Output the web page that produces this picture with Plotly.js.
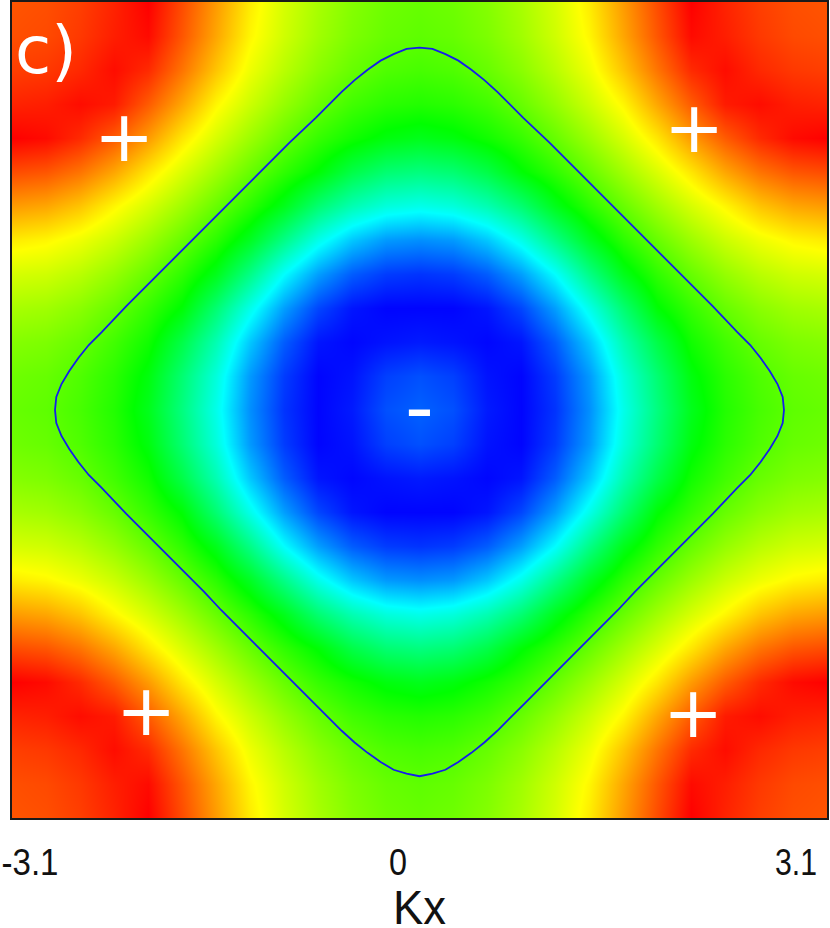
<!DOCTYPE html>
<html>
<head>
<meta charset="utf-8">
<script src="https://cdn.plot.ly/plotly-3.0.1.min.js"></script>
<style>html,body{margin:0;padding:0;background:#fff;}#chart{width:830px;height:928px;}</style>
</head>
<body>
<div id="chart"></div>
<script>
// Brillouin-zone grid (kx, ky) from -pi to pi, step pi/12
const kGrid = [-3.1416,-2.8798,-2.6180,-2.3562,-2.0944,-1.8326,-1.5708,-1.3090,-1.0472,-0.7854,-0.5236,-0.2618,0,
               0.2618,0.5236,0.7854,1.0472,1.3090,1.5708,1.8326,2.0944,2.3562,2.6180,2.8798,3.1416];

// colour value at each grid point (0 = blue ... 1 = red); rows = ky, columns = kx
const gapRows = [
 [0.917,0.923,0.939,0.966,1.000,0.926,0.848,0.769,0.710,0.665,0.630,0.608,0.600,0.608,0.630,0.665,0.710,0.769,0.848,0.926,1.000,0.966,0.939,0.923,0.917],
 [0.923,0.928,0.945,0.971,0.990,0.916,0.837,0.758,0.703,0.657,0.622,0.600,0.592,0.600,0.622,0.657,0.703,0.758,0.837,0.916,0.990,0.971,0.945,0.928,0.923],
 [0.939,0.945,0.961,0.988,0.959,0.886,0.807,0.734,0.681,0.635,0.600,0.577,0.569,0.577,0.600,0.635,0.681,0.734,0.807,0.886,0.959,0.988,0.961,0.945,0.939],
 [0.966,0.971,0.988,0.974,0.911,0.837,0.758,0.699,0.646,0.600,0.563,0.541,0.533,0.541,0.563,0.600,0.646,0.699,0.758,0.837,0.911,0.974,0.988,0.971,0.966],
 [1.000,0.990,0.959,0.911,0.848,0.774,0.710,0.653,0.600,0.552,0.516,0.487,0.474,0.487,0.516,0.552,0.600,0.653,0.710,0.774,0.848,0.911,0.959,0.990,1.000],
 [0.926,0.916,0.886,0.837,0.774,0.714,0.657,0.600,0.545,0.495,0.430,0.389,0.376,0.389,0.430,0.495,0.545,0.600,0.657,0.714,0.774,0.837,0.886,0.916,0.926],
 [0.848,0.837,0.807,0.758,0.710,0.657,0.600,0.541,0.474,0.389,0.325,0.284,0.270,0.284,0.325,0.389,0.474,0.541,0.600,0.657,0.710,0.758,0.807,0.837,0.848],
 [0.769,0.758,0.734,0.699,0.653,0.600,0.541,0.466,0.368,0.270,0.195,0.150,0.140,0.150,0.195,0.270,0.368,0.466,0.541,0.600,0.653,0.699,0.734,0.758,0.769],
 [0.710,0.703,0.681,0.646,0.600,0.545,0.474,0.368,0.250,0.155,0.090,0.058,0.050,0.058,0.090,0.155,0.250,0.368,0.474,0.545,0.600,0.646,0.681,0.703,0.710],
 [0.665,0.657,0.635,0.600,0.552,0.495,0.389,0.270,0.155,0.068,0.020,0.004,0.004,0.004,0.020,0.068,0.155,0.270,0.389,0.495,0.552,0.600,0.635,0.657,0.665],
 [0.630,0.622,0.600,0.563,0.516,0.430,0.325,0.195,0.090,0.020,0.006,0.018,0.025,0.018,0.006,0.020,0.090,0.195,0.325,0.430,0.516,0.563,0.600,0.622,0.630],
 [0.608,0.600,0.577,0.541,0.487,0.389,0.284,0.150,0.058,0.004,0.018,0.062,0.078,0.062,0.018,0.004,0.058,0.150,0.284,0.389,0.487,0.541,0.577,0.600,0.608],
 [0.600,0.592,0.569,0.533,0.474,0.376,0.270,0.140,0.050,0.004,0.025,0.078,0.095,0.078,0.025,0.004,0.050,0.140,0.270,0.376,0.474,0.533,0.569,0.592,0.600],
 [0.608,0.600,0.577,0.541,0.487,0.389,0.284,0.150,0.058,0.004,0.018,0.062,0.078,0.062,0.018,0.004,0.058,0.150,0.284,0.389,0.487,0.541,0.577,0.600,0.608],
 [0.630,0.622,0.600,0.563,0.516,0.430,0.325,0.195,0.090,0.020,0.006,0.018,0.025,0.018,0.006,0.020,0.090,0.195,0.325,0.430,0.516,0.563,0.600,0.622,0.630],
 [0.665,0.657,0.635,0.600,0.552,0.495,0.389,0.270,0.155,0.068,0.020,0.004,0.004,0.004,0.020,0.068,0.155,0.270,0.389,0.495,0.552,0.600,0.635,0.657,0.665],
 [0.710,0.703,0.681,0.646,0.600,0.545,0.474,0.368,0.250,0.155,0.090,0.058,0.050,0.058,0.090,0.155,0.250,0.368,0.474,0.545,0.600,0.646,0.681,0.703,0.710],
 [0.769,0.758,0.734,0.699,0.653,0.600,0.541,0.466,0.368,0.270,0.195,0.150,0.140,0.150,0.195,0.270,0.368,0.466,0.541,0.600,0.653,0.699,0.734,0.758,0.769],
 [0.848,0.837,0.807,0.758,0.710,0.657,0.600,0.541,0.474,0.389,0.325,0.284,0.270,0.284,0.325,0.389,0.474,0.541,0.600,0.657,0.710,0.758,0.807,0.837,0.848],
 [0.926,0.916,0.886,0.837,0.774,0.714,0.657,0.600,0.545,0.495,0.430,0.389,0.376,0.389,0.430,0.495,0.545,0.600,0.657,0.714,0.774,0.837,0.886,0.916,0.926],
 [1.000,0.990,0.959,0.911,0.848,0.774,0.710,0.653,0.600,0.552,0.516,0.487,0.474,0.487,0.516,0.552,0.600,0.653,0.710,0.774,0.848,0.911,0.959,0.990,1.000],
 [0.966,0.971,0.988,0.974,0.911,0.837,0.758,0.699,0.646,0.600,0.563,0.541,0.533,0.541,0.563,0.600,0.646,0.699,0.758,0.837,0.911,0.974,0.988,0.971,0.966],
 [0.939,0.945,0.961,0.988,0.959,0.886,0.807,0.734,0.681,0.635,0.600,0.577,0.569,0.577,0.600,0.635,0.681,0.734,0.807,0.886,0.959,0.988,0.961,0.945,0.939],
 [0.923,0.928,0.945,0.971,0.990,0.916,0.837,0.758,0.703,0.657,0.622,0.600,0.592,0.600,0.622,0.657,0.703,0.758,0.837,0.916,0.990,0.971,0.945,0.928,0.923],
 [0.917,0.923,0.939,0.966,1.000,0.926,0.848,0.769,0.710,0.665,0.630,0.608,0.600,0.608,0.630,0.665,0.710,0.769,0.848,0.926,1.000,0.966,0.939,0.923,0.917]
];

// Fermi surface (blue line), closed loop
const fsKx = [2.81,2.80,2.76,2.70,2.63,2.55,2.45,2.26,2.06,1.86,1.66,1.53,1.40,1.20,1.00,0.80,0.60,0.50,0.40,0.30,0.20,0.10,0.00,
              -0.10,-0.20,-0.30,-0.40,-0.50,-0.60,-0.80,-1.00,-1.20,-1.40,-1.53,-1.66,-1.86,-2.06,-2.26,-2.45,-2.55,-2.63,-2.70,-2.76,-2.80,-2.81,
              -2.80,-2.76,-2.70,-2.63,-2.55,-2.45,-2.26,-2.06,-1.86,-1.66,-1.53,-1.40,-1.20,-1.00,-0.80,-0.60,-0.50,-0.40,-0.30,-0.20,-0.10,0.00,
              0.10,0.20,0.30,0.40,0.50,0.60,0.80,1.00,1.20,1.40,1.53,1.66,1.86,2.06,2.26,2.45,2.55,2.63,2.70,2.76,2.80,2.81];
const fsKy = [0.00,0.10,0.20,0.30,0.40,0.50,0.60,0.80,1.00,1.20,1.40,1.53,1.66,1.86,2.06,2.25,2.45,2.54,2.62,2.69,2.74,2.78,2.79,
              2.78,2.74,2.69,2.62,2.54,2.45,2.25,2.06,1.86,1.66,1.53,1.40,1.20,1.00,0.80,0.60,0.50,0.40,0.30,0.20,0.10,0.00,
              -0.10,-0.20,-0.30,-0.40,-0.50,-0.60,-0.80,-1.00,-1.20,-1.40,-1.54,-1.67,-1.87,-2.07,-2.27,-2.47,-2.56,-2.64,-2.71,-2.77,-2.80,-2.82,
              -2.80,-2.77,-2.71,-2.64,-2.56,-2.47,-2.27,-2.07,-1.87,-1.67,-1.54,-1.40,-1.20,-1.00,-0.80,-0.60,-0.50,-0.40,-0.30,-0.20,-0.10,0.00];

// tick labels as printed under the panel
const tickLabels = ['-3.1','0','3.1'];
const tickPos = [-3.003,-0.166,2.903];
const tickLabelWidths = {'-3.1':57, '0':18, '3.1':42};
const axisTitleWidth = 53;

// sign labels of the gap
const signText = ['+','+','+','+','-'];
const signX = [0.1374,0.8368,0.1644,0.8356,0.5];
const signY = [0.8358,0.8468,0.1324,0.1299,0.5025];

const colors = [[0,'rgb(0,0,255)'],[0.25,'rgb(0,255,255)'],[0.5,'rgb(0,255,0)'],[0.75,'rgb(255,255,0)'],[1,'rgb(255,0,0)']];

const traces = [
  {type:'heatmap', x:kGrid, y:kGrid, z:gapRows, zmin:0, zmax:1, zsmooth:'best',
   colorscale:colors, showscale:false, hoverinfo:'skip'},
  {type:'scatter', mode:'lines', x:fsKx, y:fsKy,
   line:{color:'rgb(20,30,235)', width:1.8, shape:'linear'}, hoverinfo:'skip'}
];

const annotations = [
  {text:'c)', xref:'paper', yref:'paper', x:0.0417, y:0.941, showarrow:false,
   xanchor:'center', yanchor:'middle', font:{family:'DejaVu Sans', size:66, color:'#fff'}}
];
for (let i = 0; i < signText.length; i++) {
  annotations.push({text:signText[i], xref:'paper', yref:'paper', x:signX[i], y:signY[i], showarrow:false,
    xanchor:'center', yanchor:'middle',
    font:{family:'DejaVu Sans', size:(signText[i] === '-' ? 80 : 72), color:'#fff'}});
}

const axisFont = "'Liberation Sans', Arial, sans-serif";
const layout = {
  width:830, height:928,
  margin:{l:12, r:3, t:2, b:110, pad:0},
  paper_bgcolor:'#fff', plot_bgcolor:'#fff',
  showlegend:false,
  xaxis:{range:[-Math.PI, Math.PI], showgrid:false, zeroline:false, showline:true, mirror:true,
         linecolor:'#1a1a1a', linewidth:2, ticks:'outside', ticklen:11, tickcolor:'rgba(0,0,0,0)',
         tickmode:'array', tickvals:tickPos, ticktext:tickLabels, ticklabeloverflow:'allow',
         tickfont:{family:axisFont, size:37, color:'#111'},
         title:{text:'Kx', font:{family:axisFont, size:49, color:'#111'}, standoff:20}},
  yaxis:{range:[-Math.PI, Math.PI], showgrid:false, zeroline:false, showline:true, mirror:true,
         linecolor:'#1a1a1a', linewidth:2, ticks:'', showticklabels:false},
  annotations:annotations
};

Plotly.newPlot('chart', traces, layout, {staticPlot:true, displayModeBar:false}).then(function (gd) {
  // the printed labels are horizontally condensed: squeeze the glyphs to the widths seen
  gd.querySelectorAll('.xtick text').forEach(function (t) {
    const w = tickLabelWidths[t.textContent];
    if (w) { t.setAttribute('textLength', w); t.setAttribute('lengthAdjust', 'spacingAndGlyphs'); }
  });
  const title = gd.querySelector('.xtitle');
  if (title) {
    title.setAttribute('textLength', axisTitleWidth);
    title.setAttribute('lengthAdjust', 'spacingAndGlyphs');
    // the axis title sits lower in the reference, close to the bottom edge
    const y = parseFloat(title.getAttribute('y'));
    if (!isNaN(y)) title.setAttribute('y', y + 6);
  }
});
</script>
</body>
</html>
